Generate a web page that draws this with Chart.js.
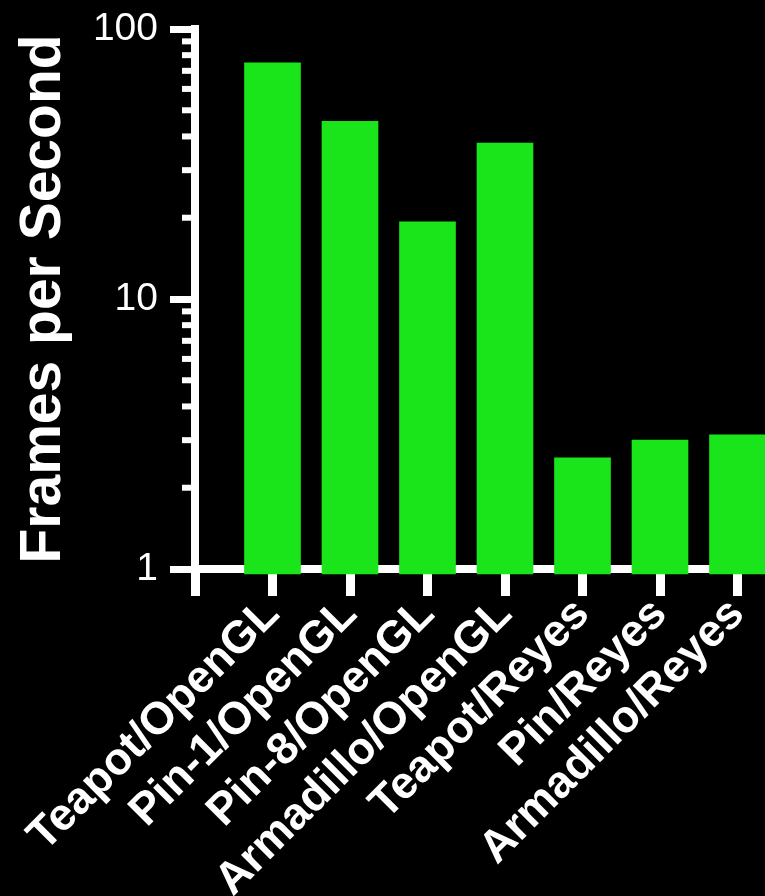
<!DOCTYPE html>
<html><head><meta charset="utf-8">
<script src="https://cdn.jsdelivr.net/npm/chart.js@4/dist/chart.umd.min.js"></script>
<style>
html,body{margin:0;padding:0;background:#000;overflow:hidden;width:765px;height:896px}
#wrap{position:relative;width:830px;height:896px}
</style></head>
<body><div id="wrap"><canvas id="c" width="830" height="896"></canvas></div>
<script>
const categories = ['Teapot/OpenGL','Pin-1/OpenGL','Pin-8/OpenGL','Armadillo/OpenGL','Teapot/Reyes','Pin/Reyes','Armadillo/Reyes'];
const fps = [75, 45.5, 19.3, 37.8, 2.58, 3.0, 3.14];
const yMajorTicks = [1, 10, 100];
const yMinorTicks = [2,3,4,5,6,7,8,9,20,30,40,50,60,70,80,90];
const yTitle = 'Frames per Second';

const labels = [''].concat(categories, ['']);
const values = [null].concat(fps, [null]);

const bgPlugin = {
  id: 'bg',
  beforeDraw(chart){ const c = chart.ctx; c.save(); c.fillStyle = '#000'; c.fillRect(0,0,chart.width,chart.height); c.restore(); }
};
const minorPlugin = {
  id: 'minor',
  afterDraw(chart){
    const y = chart.scales.y, c = chart.ctx;
    c.save(); c.fillStyle = '#fff';
    yMinorTicks.forEach(v => { const py = y.getPixelForValue(v); c.fillRect(y.right - 13, py - 3, 10, 6); });
    c.restore();
  }
};

new Chart(document.getElementById('c'), {
  type: 'bar',
  data: {
    labels: labels,
    datasets: [{
      data: values,
      backgroundColor: '#1ae51a',
      borderWidth: 0,
      barThickness: 56,
      base: 0.958,
      clip: false
    }]
  },
  options: {
    responsive: false,
    devicePixelRatio: 1,
    animation: false,
    layout: { padding: { top: 29, left: 0, right: 15, bottom: 0 } },
    plugins: { legend: { display: false }, tooltip: { enabled: false } },
    scales: {
      x: {
        type: 'category',
        offset: false,
        afterFit(s){ s.height = 327; s.paddingLeft = 0; s.paddingRight = 0; },
        grid: { display: true, offset: false, drawOnChartArea: false, drawTicks: true, tickLength: 27, tickWidth: 9, tickColor: '#fff' },
        border: { display: true, color: '#fff', width: 8 },
        ticks: {
          autoSkip: false, maxRotation: 45, minRotation: 45, padding: -8,
          color: '#fff',
          font: { family: 'Liberation Sans', size: 45, weight: 'bold' }
        }
      },
      y: {
        type: 'logarithmic',
        min: 1, max: 100,
        afterFit(s){ s.width = 195; s.paddingTop = 0; s.paddingBottom = 0; },
        afterBuildTicks(s){ s.ticks = yMajorTicks.map(v => ({ value: v })); },
        grid: { display: true, drawOnChartArea: false, drawTicks: true, tickLength: 25, tickWidth: 7, tickColor: '#fff' },
        border: { display: true, color: '#fff', width: 8 },
        ticks: {
          padding: 12, color: '#fff',
          font: { family: 'Liberation Sans', size: 39 },
          callback: (v) => String(v)
        },
        title: {
          display: true, text: yTitle, color: '#fff',
          padding: { top: 10, bottom: 0 },
          font: { family: 'Liberation Sans', size: 57, weight: 'bold' }
        }
      }
    }
  },
  plugins: [bgPlugin, minorPlugin]
});
</script>
</body></html>
